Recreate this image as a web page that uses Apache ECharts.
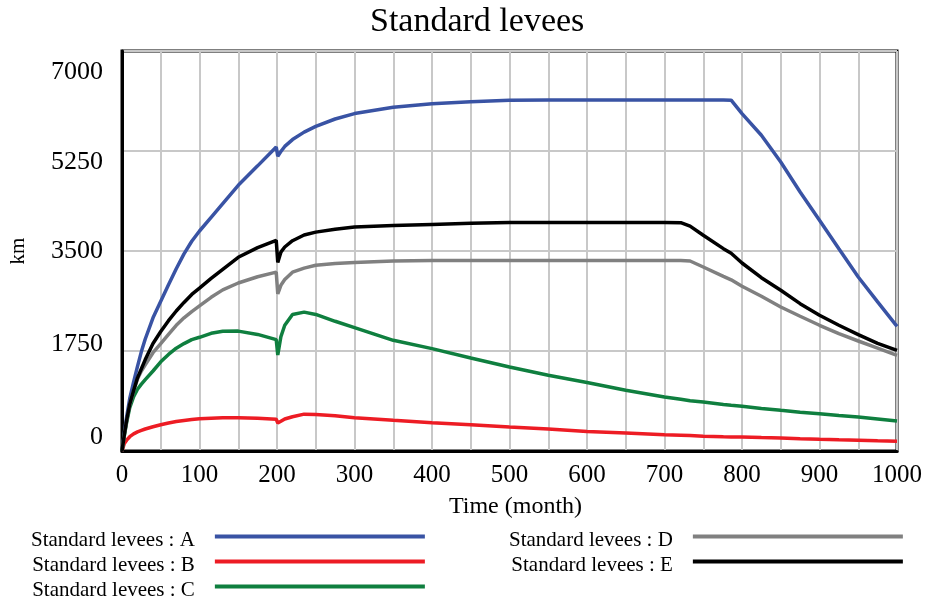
<!DOCTYPE html>
<html>
<head>
<meta charset="utf-8">
<script src="https://cdn.jsdelivr.net/npm/echarts@6/dist/echarts.min.js"></script>
<style>
html,body{margin:0;padding:0;background:#fff;}
#chart{width:925px;height:602px;}
</style>
</head>
<body>
<div id="chart"></div>
<script>
// ---- data ----
const chartTitle = 'Standard levees';
const xAxisName = 'Time (month)';
const yAxisName = 'km';
const seriesNames = ['Standard levees : A','Standard levees : B','Standard levees : C','Standard levees : D','Standard levees : E'];
const months  = [0,3,6,10,15,20,25,30,40,50,60,70,80,90,100,115,130,150,175,199,201,205,210,220,235,250,275,300,350,400,450,500,550,600,650,700,721,733,750,776,786,800,825,850,875,900,925,950,975,1000];
const valuesA = [0,320,600,920,1210,1480,1740,1960,2330,2620,2910,3190,3450,3670,3850,4090,4330,4650,4990,5320,5160,5240,5330,5450,5580,5680,5810,5905,6015,6075,6110,6137,6143,6143,6143,6143,6143,6143,6143,6143,6140,5904,5525,5058,4533,4037,3540,3045,2610,2182];
const valuesB = [0,130,190,250,300,335,360,385,425,460,490,515,535,550,565,575,580,580,575,555,490,520,560,600,645,640,615,580,537,496,461,420,385,340,315,286,277,270,257,249,247,245,236,228,215,204,195,187,178,170];
const valuesC = [0,270,500,760,950,1080,1170,1250,1400,1560,1690,1800,1880,1950,1990,2060,2095,2098,2040,1950,1680,2000,2200,2390,2430,2390,2270,2160,1937,1791,1628,1470,1325,1200,1062,945,905,880,858,815,800,782,745,712,680,653,622,595,560,525];
const valuesD = [0,285,530,810,1050,1260,1400,1510,1720,1880,2040,2200,2330,2440,2540,2690,2820,2940,3050,3130,2750,2900,3000,3130,3200,3250,3280,3300,3325,3335,3335,3335,3335,3335,3335,3335,3335,3325,3220,3057,2995,2882,2707,2520,2358,2200,2054,1925,1800,1674];
const valuesE = [0,290,540,820,1060,1280,1440,1600,1880,2090,2280,2450,2600,2740,2850,3020,3180,3390,3560,3685,3300,3480,3570,3680,3780,3830,3880,3920,3945,3965,3986,3997,4000,4000,4000,4000,3995,3935,3775,3541,3460,3290,3033,2812,2579,2375,2200,2037,1885,1760];
const yTicks = [0,1750,3500,5250,7000];
const xMin = 0, xMax = 1000;

// ---- styles ----
const colors = ['#3953a4','#ed1c24','#0f7f3f','#808080','#000000'];
const FONT = 'Liberation Serif';
const yShift = {7000: 21, 5250: 11, 3500: 0, 1750: -7, 0: -14};
const rich = {};
yTicks.forEach(function (t) {
  const d = yShift[t];
  rich['t' + t] = {
    fontFamily: FONT, fontSize: 26, color: '#000',
    padding: d >= 0 ? [2 * d, 0, 0, 0] : [0, 0, -2 * d, 0]
  };
});

const allValues = [valuesA, valuesB, valuesC, valuesD, valuesE];
const series = allValues.map(function (vals, k) {
  return {
    name: seriesNames[k],
    type: 'line',
    showSymbol: false,
    symbol: 'none',
    data: months.map(function (m, i) { return [m, vals[i]]; }),
    lineStyle: {color: colors[k], width: 3.5},
    itemStyle: {color: colors[k]},
    z: 3
  };
});

// legend bar drawn in the upper part of a 210x12 icon box
const legendIcon = 'path://M0,0L210,0L210,4L0,4Z M0,12L210,12';
const legendCommon = {
  orient: 'vertical',
  align: 'right',
  top: 530,
  padding: 0,
  itemGap: 4,
  itemWidth: 210,
  itemHeight: 12,
  icon: legendIcon,
  selectedMode: false,
  textStyle: {fontFamily: FONT, fontSize: 21, color: '#000', lineHeight: 21, padding: [0, 15, 0, 0]}
};

const chart = echarts.init(document.getElementById('chart'), null, {renderer: 'canvas'});
chart.setOption({
  animation: false,
  backgroundColor: '#fff',
  title: {
    text: chartTitle,
    left: 370, top: 5, padding: 0,
    textStyle: {fontFamily: FONT, fontSize: 34, fontWeight: 'normal', color: '#000'}
  },
  legend: [
    Object.assign({}, legendCommon, {left: 31, data: seriesNames.slice(0, 3)}),
    Object.assign({}, legendCommon, {left: 509, data: seriesNames.slice(3)})
  ],
  grid: {
    left: 121, right: 28, top: 51, bottom: 151,
    show: true, borderColor: '#000', borderWidth: 3, backgroundColor: '#fff'
  },
  xAxis: {
    type: 'value', min: xMin, max: xMax, interval: 50,
    name: xAxisName, nameLocation: 'middle', nameGap: 44,
    nameTextStyle: {fontFamily: FONT, fontSize: 24, color: '#000', padding: [0, 0, 0, 12]},
    axisLine: {show: true, lineStyle: {color: '#000', width: 3}},
    axisTick: {show: false},
    axisLabel: {
      fontFamily: FONT, fontSize: 25, color: '#000', margin: 12,
      formatter: function (v) { return v % 100 === 0 ? String(v) : ''; }
    },
    splitLine: {show: true, lineStyle: {color: '#c8c8c8', width: 2}}
  },
  yAxis: {
    type: 'value', min: 0, max: 7000, interval: 1750,
    name: yAxisName, nameLocation: 'middle', nameGap: 93, nameRotate: 90,
    nameTextStyle: {fontFamily: FONT, fontSize: 21, color: '#000'},
    axisLine: {show: true, lineStyle: {color: '#000', width: 3}},
    axisTick: {show: false},
    axisLabel: {
      margin: 19,
      formatter: function (v) { return '{t' + v + '|' + v + '}'; },
      rich: rich
    },
    splitLine: {show: true, lineStyle: {color: '#c8c8c8', width: 2}}
  },
  series: series
});
</script>
</body>
</html>
